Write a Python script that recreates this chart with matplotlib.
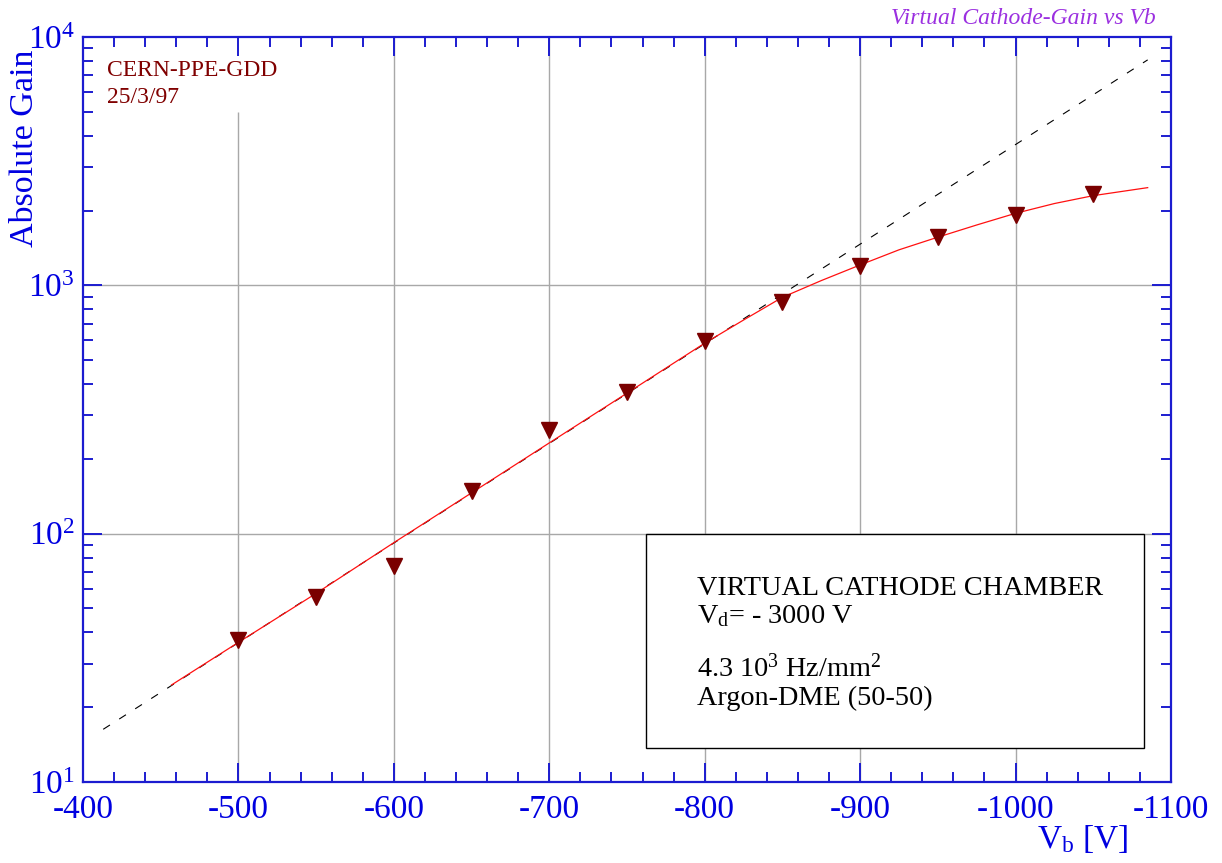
import matplotlib
matplotlib.use("Agg")
import matplotlib.pyplot as plt
from matplotlib.patches import Rectangle
from matplotlib.ticker import MultipleLocator, LogLocator, FixedLocator, NullFormatter

plt.rcParams['font.family'] = ['Liberation Serif', 'DejaVu Serif']
plt.rcParams['mathtext.fontset'] = 'custom'
plt.rcParams['mathtext.rm'] = 'Liberation Serif'
plt.rcParams['mathtext.it'] = 'Liberation Serif:italic'
plt.rcParams['axes.unicode_minus'] = False

# measured gain points
vb = [-500, -550, -600, -650, -700, -750, -800, -850, -900, -950, -1000, -1050]
gain = [37.3, 55.6, 74.1, 148, 261, 371, 597, 857, 1197, 1560, 1914, 2323]

# smooth curve (red)
curve_vb = [-457, -500, -550, -600, -650, -700, -750, -800, -825, -850, -875,
            -900, -925, -950, -975, -1000, -1025, -1050, -1085]
curve_gain = [24.6, 36.5, 57.5, 92, 146, 232, 368, 585, 725, 895, 1045,
              1208, 1390, 1563, 1750, 1950, 2135, 2297, 2474]

# exponential fit line (dashed)
fit_vb = [-413, -1085]
fit_gain = [16.3, 8090]

grid_x = [-500, -600, -700, -800, -900, -1000]
grid_y = [100, 1000]
xticks = [-400, -500, -600, -700, -800, -900, -1000, -1100]

W, H = 1222, 863
blue = '#0000e0'
axblue = '#1c1cd0'
dred = '#7a0000'


def fx(px):
    return px / W


def fy(py):
    return 1 - py / H


fig = plt.figure(figsize=(W / 100, H / 100), dpi=100)
ax = fig.add_axes([fx(83), fy(782), fx(1171) - fx(83), fy(37) - fy(782)])
ax.set_yscale('log')
ax.set_xlim(-400, -1100)
ax.set_ylim(10, 1e4)

# grid
for gx in grid_x:
    top = 5000 if gx == -500 else 1e4
    ax.vlines(gx, 10, top, color='#a8a8a8', lw=1, zorder=1)
for gy in grid_y:
    ax.axhline(gy, color='#a8a8a8', lw=1, zorder=1)

# info box
ax.add_patch(Rectangle(((646 - 83) / 1088, (782 - 748) / 745), (1144 - 646) / 1088,
                       (748 - 534) / 745, transform=ax.transAxes, facecolor='white',
                       edgecolor='black', lw=1, zorder=2))

ax.plot(fit_vb, fit_gain, color='black', lw=0.8, linestyle=(0, (7.2, 9.9)), zorder=3)
ax.plot(curve_vb, curve_gain, color='#ff1010', lw=0.9, zorder=4)
ax.plot(vb, gain, linestyle='none', marker='v', ms=11, color=dred, zorder=5)

# axes styling
for s in ax.spines.values():
    s.set_color(axblue)
    s.set_linewidth(1.6)
ax.xaxis.set_major_locator(FixedLocator(xticks))
ax.set_xticklabels([str(t) for t in xticks])
ax.xaxis.set_minor_locator(MultipleLocator(20))
ax.yaxis.set_minor_locator(LogLocator(base=10, subs=range(2, 10), numticks=20))
ax.yaxis.set_minor_formatter(NullFormatter())
ax.set_yticks([10, 100, 1000, 10000])
ax.set_yticklabels([r'$\mathregular{10^{1}}$', r'$\mathregular{10^{2}}$',
                    r'$\mathregular{10^{3}}$', r'$\mathregular{10^{4}}$'])
ax.tick_params(which='both', direction='in', top=True, right=True, color=axblue,
               width=1.4, labelcolor=blue, labelsize=24)
ax.tick_params(which='major', length=14)
ax.tick_params(which='minor', length=7)
ax.tick_params(axis='x', pad=9)
ax.tick_params(axis='y', pad=6)

# labels
fig.text(fx(25), fy(148), 'Absolute Gain', rotation=90, ha='center', va='center',
         color=blue, fontsize=24.5)
fig.text(fx(1128), fy(848), r'$\mathregular{V_b}$ [V]', ha='right', va='baseline',
         color=blue, fontsize=24)
fig.text(fx(1156), fy(24), 'Virtual Cathode-Gain vs Vb', ha='right', va='baseline',
         color='#9b30e0', fontsize=17, style='italic')
fig.text(fx(107), fy(76), 'CERN-PPE-GDD', ha='left', va='baseline', color='#800000',
         fontsize=17)
fig.text(fx(107), fy(103), '25/3/97', ha='left', va='baseline', color='#800000',
         fontsize=17)

fig.text(fx(697), fy(595), 'VIRTUAL CATHODE CHAMBER', ha='left', va='baseline',
         color='black', fontsize=20.3)
fig.text(fx(697), fy(623), r'$\mathregular{V_d}$= - 3000 V', ha='left', va='baseline',
         color='black', fontsize=20.3)
fig.text(fx(697), fy(677), r'4.3 $\mathregular{10^3}$ Hz/mm$\mathregular{^2}$',
         ha='left', va='baseline', color='black', fontsize=20.3)
fig.text(fx(697), fy(705), 'Argon-DME (50-50)', ha='left', va='baseline',
         color='black', fontsize=20.3)

fig.savefig('out.png', dpi=100, facecolor='white')
